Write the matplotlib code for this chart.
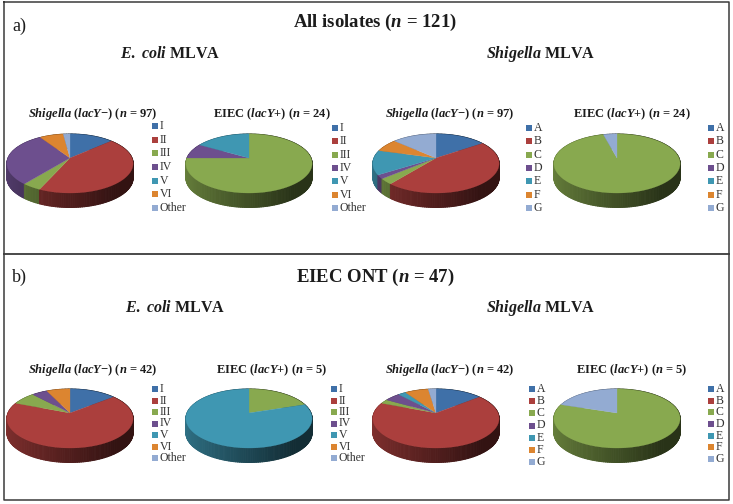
#%% IMPORTS
import numpy as np
import matplotlib
matplotlib.use('Agg')
from matplotlib import pyplot as plt
from matplotlib.collections import PolyCollection

#%% DATA
labels_ecoli = ['I', 'II', 'III', 'IV', 'V', 'VI', 'Other']
labels_shigella = ['A', 'B', 'C', 'D', 'E', 'F', 'G']

# isolate counts
all_ecoli_lacneg = [13, 42, 4, 29, 0, 7, 2]
all_ecoli_lacpos = [0, 0, 18, 2, 4, 0, 0]
all_shig_lacneg = [15, 44, 3, 2, 13, 7, 13]
all_shig_lacpos = [0, 0, 23, 0, 0, 0, 1]
ont_ecoli_lacneg = [6, 28, 3, 2, 0, 3, 0]
ont_ecoli_lacpos = [0, 0, 1, 0, 4, 0, 0]
ont_shig_lacneg = [6, 28, 1, 2, 1, 3, 1]
ont_shig_lacpos = [0, 0, 4, 0, 0, 0, 1]

colors = ['#3f70a8', '#ab3f3d', '#88a94f', '#6d4f8e', '#3f97b2', '#dc8530', '#93abd2']

#%% CONFIGURATION
plt.rcParams['font.family'] = 'Liberation Serif'
plt.rcParams['mathtext.fontset'] = 'custom'
plt.rcParams['mathtext.rm'] = 'Liberation Serif:bold'
plt.rcParams['mathtext.it'] = 'Liberation Serif:italic:bold'
plt.rcParams['mathtext.bf'] = 'Liberation Serif:bold'
ink = '#1c1c1c'

fig = plt.figure(figsize=(7.33, 5.04), dpi=100)
ax = fig.add_axes([0, 0, 1, 1])
ax.set_xlim(0, 733)
ax.set_ylim(504, 0)
ax.axis('off')


#%% FUNCTIONS
def project(t, cx, cy):
    # tilted disc seen in perspective, t runs clockwise from the top
    k = 0.186
    w = 1 + k * np.cos(t)
    return cx + 62 * np.sin(t) / w, cy - 28.5 * np.cos(t) / w


def pie3d(values, cx, cy, depth=14.5):
    total = sum(values)
    edges = np.cumsum([0] + list(values)) / total * 2 * np.pi
    polys = []
    cols = []
    order = []
    for i, v in enumerate(values):
        if v == 0:
            continue
        steps = max(2, int((edges[i + 1] - edges[i]) * 40))
        t = np.linspace(edges[i], edges[i + 1], steps)
        for a, b in zip(t[:-1], t[1:]):
            xa, ya = project(a, cx, cy)
            xb, yb = project(b, cx, cy)
            polys.append([(xa, ya), (xb, yb), (xb, yb + depth), (xa, ya + depth)])
            # wall goes dark towards the right hand side
            shade = 0.76 - 0.46 * np.clip((np.sin(a) + 1) / 1.6, 0, 1)
            cols.append(np.array(matplotlib.colors.to_rgb(colors[i])) * shade)
            order.append(np.cos(a))
    idx = np.argsort(order)[::-1]
    wall = PolyCollection([polys[j] for j in idx], facecolors=[cols[j] for j in idx],
                          edgecolors=[cols[j] for j in idx], linewidths=0.7)
    ax.add_collection(wall)

    for i, v in enumerate(values):
        if v == 0:
            continue
        t = np.linspace(edges[i], edges[i + 1], 120)
        x, y = project(t, cx, cy)
        if v == total:
            ax.fill(x, y, color=colors[i], lw=0)
        else:
            ax.fill(np.r_[cx, x], np.r_[cy, y], color=colors[i], lw=0.2)


def legend(names, x, y_top, y_bottom):
    ys = np.linspace(y_top, y_bottom, len(names))
    for name, col, y in zip(names, colors, ys):
        ax.plot([x], [y], marker='s', ms=3.8, color=col, mew=0, ls='none')
        ax.text(x + 4.5, y, name, fontsize=8.5, color='#333333', va='center', ha='left')


def small_title(txt, x, y):
    ax.text(x, y, txt, fontsize=9, fontweight='bold', color=ink, ha='center', va='center')


def heading(txt, x, y, size=11.5):
    ax.text(x, y, txt, fontsize=size, fontweight='bold', color=ink, ha='center', va='center')


#%% BORDERS
ax.plot([3.5, 729, 729, 3.5, 3.5], [1.5, 1.5, 500, 500, 1.5], color='#3a3a3a', lw=1.1)
ax.plot([3.5, 729], [253.5, 253.5], color='#3a3a3a', lw=1.3)

#%% PANEL A
ax.text(12, 26, 'a)', fontsize=13, color=ink, ha='left', va='center')
heading(r'All isolates ($\mathit{n}$ = 121)', 375, 22, 13.5)
heading(r'$\mathit{E.}$ $\mathit{coli}$ MLVA', 170, 54)
heading(r'$\mathit{Shigella}$ MLVA', 541, 54)

neg97 = r'$\mathit{Shigella}$ ($\mathit{lacY}$−) ($\mathit{n}$ = 97)'
pos24 = r'EIEC ($\mathit{lacY}$+) ($\mathit{n}$ = 24)'
small_title(neg97, 93, 114)
small_title(pos24, 272, 114)
small_title(neg97, 450, 114)
small_title(pos24, 632, 114)

pie3d(all_ecoli_lacneg, 70, 158)
pie3d(all_ecoli_lacpos, 249, 158)
pie3d(all_shig_lacneg, 436, 158)
pie3d(all_shig_lacpos, 617, 158)

legend(labels_ecoli, 155, 126, 208)
legend(labels_ecoli, 335, 128, 208)
legend(labels_shigella, 529, 128, 208)
legend(labels_shigella, 711, 128, 208)

#%% PANEL B
ax.text(12, 277, 'b)', fontsize=13, color=ink, ha='left', va='center')
heading(r'EIEC ONT ($\mathit{n}$ = 47)', 375, 277, 13.5)
heading(r'$\mathit{E.}$ $\mathit{coli}$ MLVA', 175, 308)
heading(r'$\mathit{Shigella}$ MLVA', 540, 308)

neg42 = r'$\mathit{Shigella}$ ($\mathit{lacY}$−) ($\mathit{n}$ = 42)'
pos5 = r'EIEC ($\mathit{lacY}$+) ($\mathit{n}$ = 5)'
small_title(neg42, 93, 370)
small_title(pos5, 272, 370)
small_title(neg42, 450, 370)
small_title(pos5, 632, 370)

pie3d(ont_ecoli_lacneg, 70, 413)
pie3d(ont_ecoli_lacpos, 249, 413)
pie3d(ont_shig_lacneg, 436, 413)
pie3d(ont_shig_lacpos, 617, 413)

legend(labels_ecoli, 155, 389, 458)
legend(labels_ecoli, 334, 389, 458)
legend(labels_shigella, 532, 389, 462)
legend(labels_shigella, 711, 389, 459)

fig.savefig('out.png', dpi=100)
